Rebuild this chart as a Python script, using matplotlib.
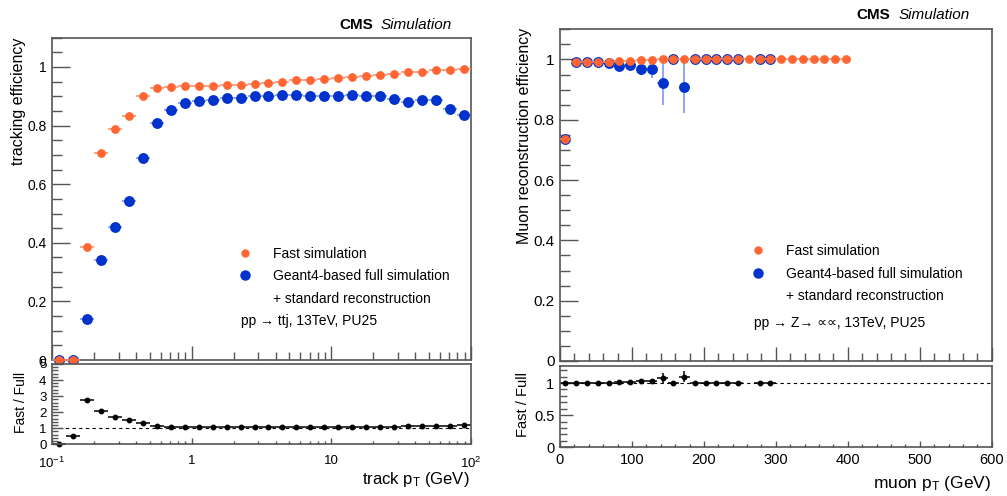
import numpy as np
import matplotlib
matplotlib.use('Agg')
import matplotlib.pyplot as plt
from matplotlib.lines import Line2D
from matplotlib.ticker import MultipleLocator, LogLocator, FuncFormatter, NullFormatter

plt.rcParams['font.family'] = ['Liberation Sans', 'DejaVu Sans']
plt.rcParams['mathtext.fontset'] = 'custom'
plt.rcParams['mathtext.rm'] = 'Liberation Sans'
plt.rcParams['mathtext.it'] = 'Liberation Sans:italic'
plt.rcParams['mathtext.bf'] = 'Liberation Sans:bold'

# --- tracking efficiency vs track pT (30 log bins, 0.1 - 100 GeV) ---
trk_edges = np.logspace(-1, 2, 31)
trk_fast = [0.0, 0.0, 0.384, 0.708, 0.789, 0.832, 0.901, 0.927, 0.933, 0.936,
            0.936, 0.936, 0.937, 0.938, 0.943, 0.946, 0.950, 0.954, 0.957, 0.960,
            0.962, 0.966, 0.969, 0.973, 0.976, 0.983, 0.984, 0.989, 0.991, 0.992]
trk_full = [0.0, 0.0, 0.139, 0.341, 0.453, 0.544, 0.689, 0.808, 0.854, 0.877,
            0.884, 0.888, 0.894, 0.893, 0.901, 0.901, 0.903, 0.903, 0.902, 0.902,
            0.901, 0.905, 0.900, 0.902, 0.891, 0.881, 0.888, 0.888, 0.857, 0.836]
trk_ratio = [0.0, 0.50, 2.73, 2.07, 1.73, 1.53, 1.31, 1.15, 1.09, 1.07,
             1.06, 1.05, 1.05, 1.05, 1.05, 1.05, 1.05, 1.06, 1.06, 1.06,
             1.07, 1.07, 1.08, 1.08, 1.10, 1.12, 1.11, 1.11, 1.16, 1.19]

# --- muon reconstruction efficiency vs muon pT (15 GeV bins) ---
mu_edges = np.arange(0, 406, 15)
nan = np.nan
mu_fast = [0.736, 0.991, 0.991, 0.992, 0.993, 0.994, 0.994, 0.997, 0.997, 1.0,
           1.0, 1.0, 1.0, 1.0, 1.0, 1.0, 1.0, 1.0, 1.0, 1.0,
           1.0, 1.0, 1.0, 1.0, 1.0, 1.0, 1.0]
mu_full = [0.736, 0.991, 0.991, 0.992, 0.989, 0.978, 0.982, 0.968, 0.967, 0.922,
           1.0, 0.908, 1.0, 1.0, 1.0, 1.0, 1.0, nan, 1.0, 1.0,
           nan, nan, nan, nan, nan, nan, nan]
mu_full_err_lo = [0.004, 0.002, 0.002, 0.002, 0.003, 0.005, 0.005, 0.018, 0.028, 0.072,
                  0.0, 0.085, 0.0, 0.0, 0.0, 0.0, 0.0, nan, 0.0, 0.0,
                  nan, nan, nan, nan, nan, nan, nan]
mu_full_err_hi = [0.004, 0.002, 0.002, 0.002, 0.003, 0.005, 0.005, 0.018, 0.028, 0.078,
                  0.0, 0.092, 0.0, 0.0, 0.0, 0.0, 0.0, nan, 0.0, 0.0,
                  nan, nan, nan, nan, nan, nan, nan]
mu_ratio = [1.0, 1.0, 1.0, 1.0, 1.004, 1.016, 1.012, 1.03, 1.03, 1.083,
            1.0, 1.10, 1.0, 1.0, 1.0, 1.0, 1.0, nan, 1.0, 1.0,
            nan, nan, nan, nan, nan, nan, nan]
mu_ratio_err = [0.005, 0.003, 0.003, 0.003, 0.004, 0.006, 0.006, 0.02, 0.03, 0.078,
                0.0, 0.09, 0.0, 0.0, 0.0, 0.0, 0.0, nan, 0.0, 0.0,
                nan, nan, nan, nan, nan, nan, nan]

ORANGE = '#ff6633'
ORANGE_BAR = '#ff8a5f'
BLUE = '#0033cc'
BLUE_BAR = '#6f8ff0'
FRAME = '#555555'

W, H = 1007, 496
fig = plt.figure(figsize=(W / 100, H / 100), dpi=100)


def px_axes(x0, y0, x1, y1):
    return fig.add_axes([x0 / W, 1 - y1 / H, (x1 - x0) / W, (y1 - y0) / H])


def frame(ax, xmaj, xmin, ymaj, ymin, xsize, ysize):
    for s in ax.spines.values():
        s.set_color(FRAME)
        s.set_linewidth(1.2)
    ax.tick_params(which='both', direction='in', top=False, right=False,
                   color=FRAME, width=1.0, pad=4)
    ax.tick_params(axis='x', which='major', length=xmaj, labelsize=xsize)
    ax.tick_params(axis='x', which='minor', length=xmin)
    ax.tick_params(axis='y', which='major', length=ymaj, labelsize=ysize)
    ax.tick_params(axis='y', which='minor', length=ymin)
    ax.yaxis.set_major_formatter(FuncFormatter(lambda v, p: '%g' % v))


def bin_points(ax, edges, y, color, bar, ms, yerr=None, z=2, log=False):
    lo, hi = np.asarray(edges[:-1], float), np.asarray(edges[1:], float)
    x = np.sqrt(lo * hi) if log else 0.5 * (lo + hi)
    y = np.asarray(y, float)
    ok = ~np.isnan(y)
    if yerr is not None:
        yerr = np.asarray(yerr, float)[:, ok]
    ax.errorbar(x[ok], y[ok], xerr=[x[ok] - lo[ok], hi[ok] - x[ok]], yerr=yerr,
                fmt='o', ms=ms, color=color, ecolor=bar, elinewidth=1.1,
                capsize=0, zorder=z, clip_on=False)


def legend(ax, x, y):
    handles = [Line2D([], [], ls='none', marker='o', ms=5, color=ORANGE),
               Line2D([], [], ls='none', marker='o', ms=6.5, color=BLUE),
               Line2D([], [], ls='none')]
    ax.legend(handles, ['Fast simulation', 'Geant4-based full simulation',
                        '+ standard reconstruction'],
              loc='upper left', bbox_to_anchor=(x, y), frameon=False,
              fontsize=10, handlelength=2, handletextpad=1.0,
              labelspacing=0.62, borderpad=0, borderaxespad=0)


# ---------- left: tracking efficiency ----------
axL = px_axes(52, 37.7, 471, 360)
axL.set_xscale('log')
axL.set_xlim(0.1, 100)
axL.set_ylim(0, 1.1)
frame(axL, 10, 6, 13, 7, 9, 10)
axL.yaxis.set_major_locator(MultipleLocator(0.2))
axL.yaxis.set_minor_locator(MultipleLocator(0.05))
axL.xaxis.set_minor_locator(LogLocator(subs=np.arange(2, 10)))
axL.tick_params(axis='x', which='both', labelbottom=False)
bin_points(axL, trk_edges, trk_full, BLUE, BLUE_BAR, 6.8, log=True)
bin_points(axL, trk_edges, trk_fast, ORANGE, ORANGE_BAR, 5.3, z=3, log=True)
legend(axL, 0.427, 0.352)
axL.text(0.450, 0.121, 'pp \u2192 ttj, 13TeV, PU25', transform=axL.transAxes,
         fontsize=10, va='center', ha='left')

rL = px_axes(52, 364, 471, 444.3)
rL.set_xscale('log')
rL.set_xlim(0.1, 100)
rL.set_ylim(0, 5)
frame(rL, 4, 2, 8, 4, 9.5, 9.5)
rL.yaxis.set_major_locator(MultipleLocator(1))
rL.yaxis.set_minor_locator(MultipleLocator(0.2))
rL.xaxis.set_minor_locator(LogLocator(subs=np.arange(2, 10)))
rL.xaxis.set_minor_formatter(NullFormatter())
rL.set_xticks([0.1, 1, 10, 100], ['$10^{-1}$', '1', '10', '$10^{2}$'])
rL.tick_params(axis='x', which='major', pad=8)
rL.axhline(1, color='black', lw=0.8, ls=(0, (3, 3)), zorder=1)
bin_points(rL, trk_edges, trk_ratio, 'black', 'black', 3.2, log=True)

# ---------- right: muon reconstruction efficiency ----------
axR = px_axes(560, 29.3, 991.7, 361)
axR.set_xlim(0, 600)
axR.set_ylim(0, 1.1)
frame(axR, 10, 6, 13, 7, 10, 11)
axR.yaxis.set_major_locator(MultipleLocator(0.2))
axR.yaxis.set_minor_locator(MultipleLocator(0.05))
axR.xaxis.set_major_locator(MultipleLocator(100))
axR.xaxis.set_minor_locator(MultipleLocator(20))
axR.tick_params(axis='x', which='both', labelbottom=False)
bin_points(axR, mu_edges, mu_full, BLUE, BLUE_BAR, 6.8,
           yerr=[mu_full_err_lo, mu_full_err_hi])
bin_points(axR, mu_edges, mu_fast, ORANGE, ORANGE_BAR, 5.3, z=3)
legend(axR, 0.427, 0.353)
axR.text(0.450, 0.1155, 'pp \u2192 Z\u2192 \u221d\u221d, 13TeV, PU25',
         transform=axR.transAxes, fontsize=10, va='center', ha='left')

rR = px_axes(560, 365.7, 991.7, 447.3)
rR.set_xlim(0, 600)
rR.set_ylim(0, 1.27)
frame(rR, 4, 2, 9, 5, 10.5, 10.5)
rR.yaxis.set_major_locator(MultipleLocator(0.5))
rR.yaxis.set_minor_locator(MultipleLocator(0.1))
rR.xaxis.set_major_locator(MultipleLocator(100))
rR.xaxis.set_minor_locator(MultipleLocator(20))
rR.axhline(1, color='black', lw=0.8, ls=(0, (3, 3)), zorder=1)
bin_points(rR, mu_edges, mu_ratio, 'black', 'black', 3.2,
           yerr=[mu_ratio_err, mu_ratio_err])

# ---------- titles and axis labels ----------
for xc, xs, y in [(339, 380.7, 25), (856, 898.3, 15)]:
    fig.text(xc / W, 1 - y / H, 'CMS', fontsize=11, fontweight='bold',
             ha='left', va='center')
    fig.text(xs / W, 1 - y / H, 'Simulation', fontsize=11, style='italic',
             ha='left', va='center')

fig.text(19 / W, 1 - 38 / H, 'tracking efficiency', rotation=90,
         fontsize=11.5, ha='center', va='top')
fig.text(525 / W, 1 - 28 / H, 'Muon reconstruction efficiency', rotation=90,
         fontsize=11.5, ha='center', va='top')
fig.text(21 / W, 1 - 372 / H, 'Fast / Full', rotation=90,
         fontsize=10, ha='center', va='top')
fig.text(523 / W, 1 - 372 / H, 'Fast / Full', rotation=90,
         fontsize=10.5, ha='center', va='top')
fig.text(470 / W, 1 - 484 / H, r'track p$_{\mathrm{T}}$ (GeV)',
         fontsize=12, ha='right', va='baseline')
fig.text(991 / W, 1 - 488 / H, r'muon p$_{\mathrm{T}}$ (GeV)',
         fontsize=12.5, ha='right', va='baseline')

fig.savefig('out.png', dpi=100)
